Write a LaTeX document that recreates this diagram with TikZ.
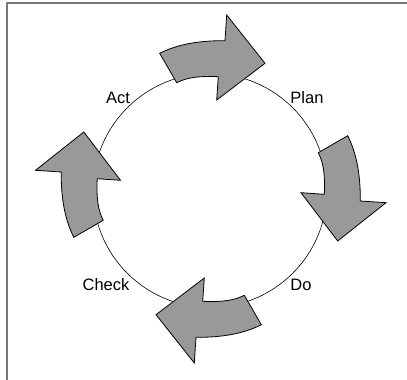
\documentclass[tikz,border=0pt]{standalone}
\usepackage{fontspec}
\setmainfont{Liberation Sans}
\usepackage{xcolor}
\usepackage{tikz}
\usetikzlibrary{positioning}
\definecolor{arrowgray}{RGB}{153,153,153}
\definecolor{framegray}{RGB}{120,120,120}
\tikzstyle{cyclearrow} = [line width=0.8pt,fill=arrowgray,line join=miter]
\tikzstyle{steplabel} = [font=\fontsize{16.5}{19}\selectfont]

\begin{document}
\begin{tikzpicture}[line cap=round,line join=round,x=1pt,y=-1pt]
                \useasboundingbox (0,0) rectangle (407,380);
                \draw [framegray,line width=2pt,line cap=butt] (6.7,380)-- (6.7,3)-- (407,3);
                \draw [line width=0.6pt] (210,190.5) circle (117pt);
                \foreach \ang/\dx/\dy in {0/0/0,-90/0/0,-180/-4/1,-270/-3.5/-4}{
                    \begin{scope}[shift={(212.5+\dx,188.5+\dy)},rotate=\ang]
                        \draw [cyclearrow] (-52.8,-135.2) .. controls (-34.5,-144.5) and (-12.5,-148) .. (12.5,-147.8)
                            -- (14.2,-173.5)-- (52.5,-125.2)-- (4.2,-88.5)-- (5.8,-111.8)
                            .. controls (-12.5,-112.5) and (-24.5,-111.5) .. (-35.8,-105.8)-- cycle;
                    \end{scope}
                }
                \node[steplabel] (act) at (118,97.5) {Act};
                \node[steplabel] (plan) at (307,97.5) {Plan};
                \node[steplabel] (check) at (106,285) {Check};
                \node[steplabel] (do) at (301,285) {Do};
            \end{tikzpicture}
\end{document}
